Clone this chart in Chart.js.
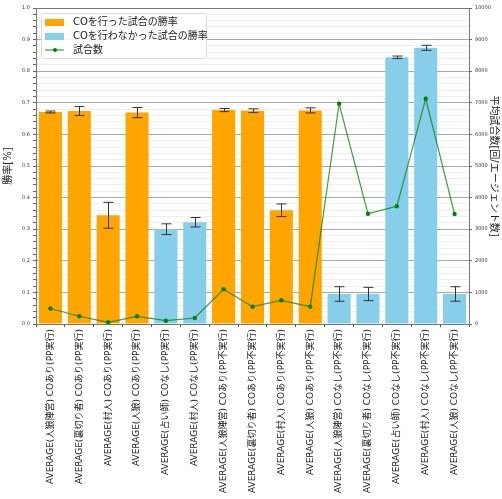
<!DOCTYPE html>
<html>
<head>
<meta charset="utf-8">
<script src="https://cdn.jsdelivr.net/npm/chart.js@4"></script>
<style>
    body { margin: 0; background: #fff; }
    #wrap { position: relative; width: 502px; height: 499px; }
    #legend {
        position: absolute; left: 41px; top: 13px; width: 164px; height: 44px;
        border: 1px solid #dcdcdc; border-radius: 3px; background: rgba(255,255,255,0.85);
        font-family: "DejaVu Sans", "Noto Sans CJK JP", sans-serif; font-size: 10px; color: #222;
    }
    .row { position: absolute; left: 3px; height: 14px; line-height: 14px; }
    .row .sw { position: absolute; left: 0; top: 4px; width: 19px; height: 7px; }
    .row span { position: absolute; left: 28px; white-space: nowrap; }
</style>
</head>
<body>
<div id="wrap">
    <canvas id="chart" width="502" height="499"></canvas>
    <div id="legend">
        <div class="row" style="top:1px"><div class="sw" style="background:#ffa500"></div><span>COを行った試合の勝率</span></div>
        <div class="row" style="top:15px"><div class="sw" style="background:#87ceeb"></div><span>COを行わなかった試合の勝率</span></div>
        <div class="row" style="top:29px">
            <div class="sw" style="top:6px;height:2px;background:rgba(0,128,0,0.45)"></div>
            <div class="sw" style="left:8px;top:5px;width:4px;height:4px;border-radius:2px;background:#008000"></div>
            <span>試合数</span>
        </div>
    </div>
</div>
<script>
// --- DATA ---
const labels = [
    'AVERAGE(人狼陣営) COあり(PP実行)',
    'AVERAGE(裏切り者) COあり(PP実行)',
    'AVERAGE(村人) COあり(PP実行)',
    'AVERAGE(人狼) COあり(PP実行)',
    'AVERAGE(占い師) COなし(PP実行)',
    'AVERAGE(村人) COなし(PP実行)',
    'AVERAGE(人狼陣営) COあり(PP不実行)',
    'AVERAGE(裏切り者) COあり(PP不実行)',
    'AVERAGE(村人) COあり(PP不実行)',
    'AVERAGE(人狼) COあり(PP不実行)',
    'AVERAGE(人狼陣営) COなし(PP不実行)',
    'AVERAGE(裏切り者) COなし(PP不実行)',
    'AVERAGE(占い師) COなし(PP不実行)',
    'AVERAGE(村人) COなし(PP不実行)',
    'AVERAGE(人狼) COなし(PP不実行)'
];
const coRate   = [0.671, 0.674, 0.344, 0.669, null, null, 0.677, 0.675, 0.360, 0.676, null, null, null, null, null];
const noCoRate = [null, null, null, null, 0.300, 0.322, null, null, null, null, 0.095, 0.095, 0.844, 0.874, 0.095];
const rateErr  = [0.003, 0.014, 0.041, 0.016, 0.017, 0.015, 0.005, 0.006, 0.020, 0.008, 0.023, 0.021, 0.004, 0.008, 0.023];
const games    = [490, 244, 54, 244, 105, 190, 1098, 548, 750, 548, 6970, 3491, 3725, 7130, 3481];

const FONT = '"DejaVu Sans", "Noto Sans CJK JP", sans-serif';

// error bars on top of the bars
const errorBars = {
    id: 'errorBars',
    afterDatasetsDraw(chart) {
        const { ctx, scales: { x, y } } = chart;
        ctx.save();
        ctx.strokeStyle = '#333';
        ctx.lineWidth = 1;
        labels.forEach((_, i) => {
            const v = coRate[i] != null ? coRate[i] : noCoRate[i];
            if (v == null) return;
            const px = Math.round(x.getPixelForValue(i)) + 0.5;
            const top = y.getPixelForValue(v + rateErr[i]);
            const bot = y.getPixelForValue(v - rateErr[i]);
            ctx.beginPath();
            ctx.moveTo(px, top); ctx.lineTo(px, bot);
            ctx.moveTo(px - 5, top); ctx.lineTo(px + 5, top);
            ctx.moveTo(px - 5, bot); ctx.lineTo(px + 5, bot);
            ctx.stroke();
        });
        ctx.restore();
    }
};

// top frame line
const frame = {
    id: 'frame',
    afterDraw(chart) {
        const { ctx, chartArea: a } = chart;
        ctx.save();
        ctx.strokeStyle = '#777';
        ctx.lineWidth = 1;
        ctx.beginPath();
        ctx.moveTo(a.left, a.top + 0.5);
        ctx.lineTo(a.right, a.top + 0.5);
        ctx.stroke();
        ctx.restore();
    }
};

const isMajor = v => Math.abs(v * 10 - Math.round(v * 10)) < 1e-6;

new Chart(document.getElementById('chart'), {
    data: {
        labels: labels,
        datasets: [
            {
                type: 'line', label: '試合数', data: games, yAxisID: 'y1', order: 0,
                borderColor: 'rgba(0,128,0,0.75)', borderWidth: 1.2, tension: 0,
                pointRadius: 2.2, pointBackgroundColor: '#008000', pointBorderWidth: 0
            },
            {
                type: 'bar', label: 'COを行った試合の勝率', data: coRate, yAxisID: 'y', order: 1,
                backgroundColor: '#ffa500', grouped: false, barPercentage: 0.8, categoryPercentage: 1.0
            },
            {
                type: 'bar', label: 'COを行わなかった試合の勝率', data: noCoRate, yAxisID: 'y', order: 1,
                backgroundColor: '#87ceeb', grouped: false, barPercentage: 0.8, categoryPercentage: 1.0
            }
        ]
    },
    options: {
        responsive: false,
        animation: false,
        layout: { padding: { top: 8, left: 0, right: 0, bottom: 0 } },
        plugins: { legend: { display: false }, tooltip: { enabled: false } },
        scales: {
            x: {
                offset: true,
                grid: { display: true, drawOnChartArea: false, tickLength: 3, tickColor: '#555' },
                border: { color: '#777' },
                ticks: {
                    autoSkip: false, minRotation: 90, maxRotation: 90, padding: 2,
                    color: '#222', font: { family: FONT, size: 9 }
                },
                afterFit: s => { s.height = 175; }
            },
            y: {
                position: 'left', min: 0, max: 1,
                grid: {
                    color: c => isMajor(c.tick.value) ? '#a8a8a8' : '#efefef',
                    tickLength: 3, tickColor: '#666'
                },
                border: { color: '#777' },
                ticks: {
                    stepSize: 0.02, autoSkip: false, padding: 3,
                    color: '#333', font: { family: FONT, size: 5 },
                    callback: v => isMajor(v) ? v.toFixed(1) : ''
                },
                title: {
                    display: true, text: '勝率[%]', color: '#222',
                    font: { family: FONT, size: 10 }, padding: { top: 2, bottom: 0 }
                },
                afterFit: s => { s.width = 36; }
            },
            y1: {
                position: 'right', min: 0, max: 10000,
                grid: { drawOnChartArea: false, tickLength: 3, tickColor: '#666' },
                border: { color: '#777' },
                ticks: {
                    stepSize: 1000, autoSkip: false, padding: 3,
                    color: '#333', font: { family: FONT, size: 5 },
                    callback: v => String(v)
                },
                title: {
                    display: true, text: '平均試合数[回/エージェント数]', color: '#222',
                    font: { family: FONT, size: 10 }, padding: { top: 2, bottom: 2 }
                },
                afterFit: s => { s.width = 33; }
            }
        }
    },
    plugins: [errorBars, frame]
});
</script>
</body>
</html>
